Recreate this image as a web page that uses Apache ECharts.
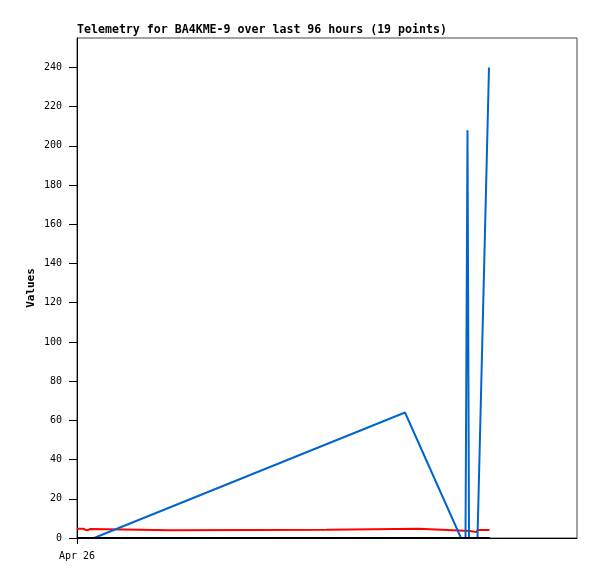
<!DOCTYPE html>
<html><head><meta charset="utf-8">
<script src="https://cdn.jsdelivr.net/npm/echarts@6/dist/echarts.min.js"></script>
<style>html,body{margin:0;padding:0;background:#fff}#c{width:597px;height:579px}</style>
</head><body><div id="c"></div>
<script>
// x values are hours from the start of the axis ("Apr 26")
const titleText = 'Telemetry for BA4KME-9 over last 96 hours (19 points)';
const xTickLabels = ['Apr 26'];
const xTickValues = [0];
const yTicks = [0,20,40,60,80,100,120,140,160,180,200,220,240];

const redSeries = [[0,4.7],[1.2,4.7],[1.3,3.9],[2.0,3.9],[2.1,4.6],[2.7,4.6],[2.8,3.9],[18.8,3.9],[18.9,4.2],[50.0,4.2],[50.1,4.7],[68.4,4.7],[68.5,4.1],[74.0,4.1],[74.1,3.6],[78.6,3.6],[78.7,3.0],[80.0,3.0],[80.1,4.1],[82.5,4.1]];
const blueSeries = [[3.4,0],[65.6,64],[76.8,0],[77.7,0],[78.1,208],[78.4,0],[80.1,0],[82.4,240]];
const blackSeries = [[0,0],[82.6,0]];

const mono = 'DejaVu Sans Mono';
const chart = echarts.init(document.getElementById('c'));
chart.setOption({
  animation: false,
  backgroundColor: '#fff',
  title: { text: titleText, left: 77, top: 24, padding: 0,
    textStyle: { fontFamily: mono, fontSize: 11.6, fontWeight: 'bold', color: '#000' } },
  grid: { left: 77, top: 38, right: 20, bottom: 41, show: true, borderColor: '#444', borderWidth: 1, backgroundColor: 'transparent' },
  xAxis: { type: 'value', min: 0, max: 100, interval: 100,
    axisLine: { show: true, lineStyle: { color: '#000', width: 1 } },
    axisTick: { show: true, length: 6, customValues: xTickValues, lineStyle: { color: '#000' } },
    axisLabel: { customValues: xTickValues, formatter: v => xTickLabels[xTickValues.indexOf(v)] || '',
      fontFamily: mono, fontSize: 10, color: '#000', margin: 13 },
    splitLine: { show: false } },
  yAxis: { type: 'value', min: 0, max: 255,
    name: 'Values', nameLocation: 'middle', nameGap: 40, nameMoveOverlap: false,
    nameTextStyle: { fontFamily: mono, fontSize: 11, fontWeight: 'bold', color: '#000' },
    axisLine: { show: true, lineStyle: { color: '#000', width: 1 } },
    axisTick: { show: true, length: 8, customValues: yTicks, lineStyle: { color: '#000' } },
    axisLabel: { customValues: yTicks, fontFamily: mono, fontSize: 10, color: '#000', margin: 15 },
    splitLine: { show: false } },
  series: [
    { type: 'line', data: redSeries, showSymbol: false, z: 2,
      lineStyle: { color: '#ff0000', width: 2 } },
    { type: 'line', data: blueSeries, showSymbol: false, z: 3,
      lineStyle: { color: '#0066cc', width: 2 } },
    { type: 'line', data: blackSeries, showSymbol: false, z: 4,
      lineStyle: { color: '#000', width: 2 } }
  ]
});
</script></body></html>
